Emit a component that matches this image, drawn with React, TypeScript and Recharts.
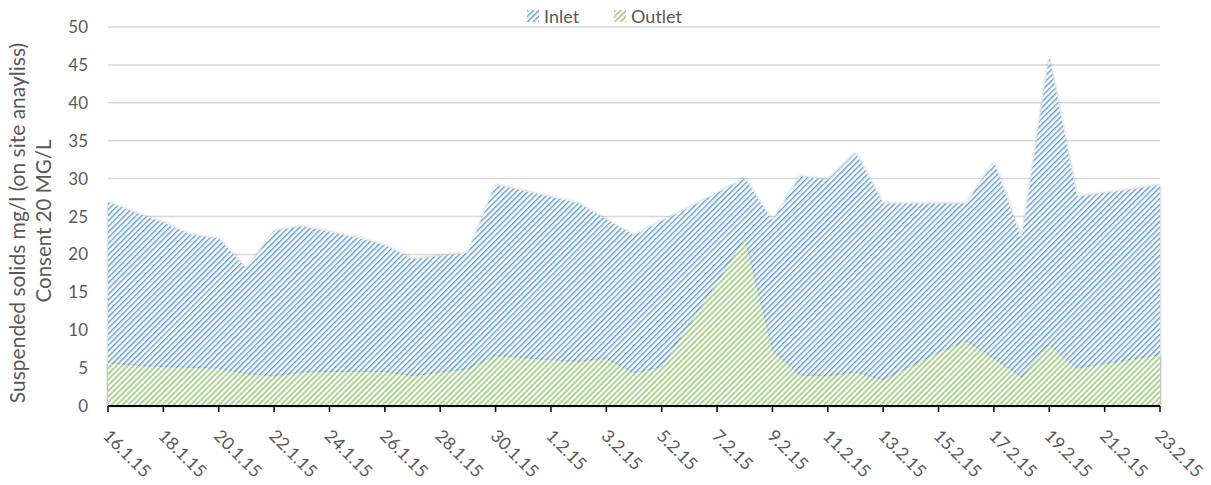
import React from "react";
import {
  AreaChart,
  Area,
  XAxis,
  YAxis,
  CartesianGrid,
} from "recharts";

// one entry per day, 16.1.15 to 23.2.15
const dates = [
  "16.1.15", "17.1.15", "18.1.15", "19.1.15", "20.1.15", "21.1.15", "22.1.15",
  "23.1.15", "24.1.15", "25.1.15", "26.1.15", "27.1.15", "28.1.15", "29.1.15",
  "30.1.15", "31.1.15", "1.2.15", "2.2.15", "3.2.15", "4.2.15", "5.2.15",
  "6.2.15", "7.2.15", "8.2.15", "9.2.15", "10.2.15", "11.2.15", "12.2.15",
  "13.2.15", "14.2.15", "15.2.15", "16.2.15", "17.2.15", "18.2.15", "19.2.15",
  "20.2.15", "21.2.15", "22.2.15", "23.2.15",
];

const inlet = [
  26.9, 25.5, 24.2, 22.6, 22.1, 18.1, 23.1, 23.7, 23.0, 22.2, 21.2, 19.4, 19.8,
  20.2, 29.2, 28.4, 27.6, 26.7, 24.6, 22.5, 24.4, 26.2, 28.1, 30.0, 24.4, 30.3,
  29.8, 33.4, 26.7, 26.7, 26.7, 26.7, 32.2, 22.0, 46.0, 27.6, 28.1, 28.6, 29.2,
];

const outlet = [
  5.6, 5.3, 5.1, 5.0, 4.9, 4.2, 3.9, 4.4, 4.5, 4.5, 4.5, 3.9, 4.4, 4.8, 6.6,
  6.3, 6.0, 5.8, 6.2, 4.3, 5.1, 10.7, 16.3, 22.0, 7.3, 4.0, 3.9, 4.4, 3.4, 5.2,
  7.0, 8.5, 6.2, 3.8, 8.0, 4.9, 5.5, 6.1, 6.7,
];

const yTicks = [0, 5, 10, 15, 20, 25, 30, 35, 40, 45, 50];

const data = dates.map((date, i) => ({
  date,
  inlet: inlet[i],
  outlet: outlet[i],
}));

const FONT = "Lato, 'Open Sans', sans-serif";
const GREY = "#595959";

function DateTick(props: any) {
  const { x, y, payload } = props;
  return (
    <text
      transform={`translate(${x - 6},${y + 23}) rotate(45)`}
      textAnchor="start"
      fontSize={17.5}
      fontFamily={FONT}
      fill={GREY}
    >
      {payload.value}
    </text>
  );
}

function Swatch({ id }: { id: string }) {
  return (
    <svg width={12} height={12} style={{ display: "block" }}>
      <rect width={12} height={12} fill={`url(#${id})`} />
    </svg>
  );
}

export default function App() {
  return (
    <div
      style={{
        position: "absolute",
        left: 0,
        top: 0,
        width: 1211,
        height: 485,
        background: "#fff",
        fontFamily: FONT,
        overflow: "hidden",
      }}
    >
      <AreaChart
        width={1211}
        height={485}
        data={data}
        margin={{ top: 27, right: 51, bottom: 0, left: 0 }}
      >
        <defs>
          <pattern
            id="inletHatch"
            patternUnits="userSpaceOnUse"
            width={4}
            height={4}
            patternTransform="rotate(45)"
          >
            <rect width={4} height={4} fill="#ffffff" />
            <rect width={1.4} height={4} fill="#5B9BD5" />
          </pattern>
          <pattern
            id="outletHatch"
            patternUnits="userSpaceOnUse"
            width={4}
            height={4}
            patternTransform="rotate(45)"
          >
            <rect width={4} height={4} fill="#ffffff" />
            <rect width={1.9} height={4} fill="#A9D18E" />
          </pattern>
          <filter id="soft" x="-5%" y="-5%" width="110%" height="110%">
            <feDropShadow dx="0" dy="0" stdDeviation="1.6" floodColor="#000" floodOpacity="0.3" />
          </filter>
        </defs>
        <CartesianGrid vertical={false} stroke="#d9d9d9" strokeWidth={1.5} />
        <XAxis
          dataKey="date"
          interval={1}
          height={79}
          tickSize={6}
          tickLine={{ stroke: "#000", strokeWidth: 1.5 }}
          axisLine={{ stroke: "#000", strokeWidth: 2 }}
          tick={<DateTick />}
        />
        <YAxis
          width={108}
          domain={[0, 50]}
          ticks={yTicks}
          axisLine={false}
          tickLine={false}
          tickSize={0}
          tickMargin={20}
          tick={{ fontSize: 17, fill: GREY, fontFamily: FONT }}
        />
        <Area
          type="linear"
          dataKey="inlet"
          name="Inlet"
          stroke="none"
          fill="url(#inletHatch)"
          fillOpacity={1}
          filter="url(#soft)"
          isAnimationActive={false}
          dot={false}
          activeDot={false}
        />
        <Area
          type="linear"
          dataKey="outlet"
          name="Outlet"
          stroke="none"
          fill="url(#outletHatch)"
          fillOpacity={1}
          filter="url(#soft)"
          isAnimationActive={false}
          dot={false}
          activeDot={false}
        />
      </AreaChart>

      {/* legend */}
      <div
        style={{
          position: "absolute",
          top: 6,
          left: 527,
          display: "flex",
          alignItems: "center",
          fontSize: 18,
          color: GREY,
          lineHeight: "20px",
        }}
      >
        <Swatch id="inletHatch" />
        <span style={{ marginLeft: 5 }}>Inlet</span>
        <span style={{ width: 35 }} />
        <Swatch id="outletHatch" />
        <span style={{ marginLeft: 5 }}>Outlet</span>
      </div>

      {/* y axis title */}
      <svg
        width={70}
        height={485}
        style={{ position: "absolute", left: 0, top: 0, pointerEvents: "none" }}
      >
        <text
          transform="translate(25,223) rotate(-90)"
          textAnchor="middle"
          fontSize={21}
          fontFamily={FONT}
          fill={GREY}
        >
          Suspended solids mg/l (on site anayliss)
        </text>
        <text
          transform="translate(51,221) rotate(-90)"
          textAnchor="middle"
          fontSize={20.5}
          fontFamily={FONT}
          fill={GREY}
        >
          Consent 20 MG/L
        </text>
      </svg>
    </div>
  );
}
